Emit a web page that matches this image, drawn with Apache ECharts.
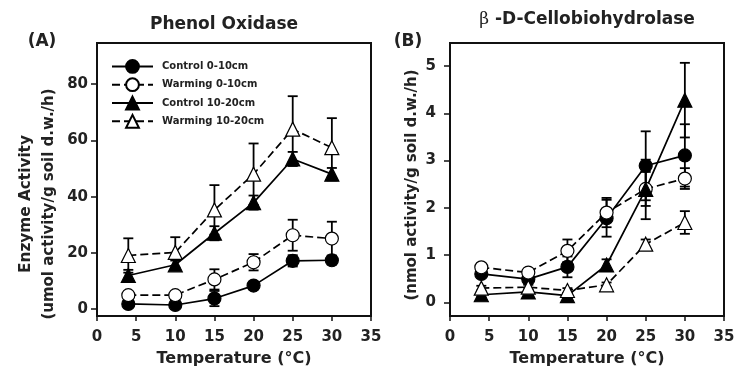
<!DOCTYPE html>
<html><head><meta charset="utf-8">
<script src="https://cdn.jsdelivr.net/npm/echarts@6/dist/echarts.min.js"></script>
<style>html,body{margin:0;padding:0;background:#fff}#c{width:747px;height:373px}</style>
</head><body><div id="c"></div>
<script>
// ---- data ----
const temps = [4, 10, 15, 20, 25, 30];
const seriesNames = ['Control 0-10cm', 'Warming 0-10cm', 'Control 10-20cm', 'Warming 10-20cm'];
const xTicks = [0, 5, 10, 15, 20, 25, 30, 35];
const yTicksA = [0, 20, 40, 60, 80];
const yTicksB = [0, 1, 2, 3, 4, 5];
// Panel A: Phenol Oxidase
const phenolCtrl0 = [1.9, 1.5, 3.8, 8.4, 17.2, 17.4];
const phenolCtrl0Err = [0.8, 0.8, 2.7, 1.2, 2.0, 1.5];
const phenolWarm0 = [5.0, 5.0, 10.6, 16.7, 26.3, 25.1];
const phenolWarm0Err = [1.0, 1.0, 3.6, 2.9, 5.5, 6.0];
const phenolCtrl10 = [12.0, 15.8, 27.0, 37.9, 53.4, 48.0];
const phenolCtrl10Err = [2.0, 1.5, 2.5, 2.5, 2.5, 2.2];
const phenolWarm10 = [19.1, 20.2, 35.3, 48.0, 64.0, 57.4];
const phenolWarm10Err = [6.1, 5.4, 8.8, 10.9, 11.7, 10.5];
// Panel B: beta-D-Cellobiohydrolase
const cbhCtrl0 = [0.60, 0.49, 0.75, 1.78, 2.89, 3.11];
const cbhCtrl0Err = [0.05, 0.05, 0.22, 0.39, 0.73, 0.66];
const cbhWarm0 = [0.74, 0.63, 1.09, 1.90, 2.40, 2.62];
const cbhWarm0Err = [0.05, 0.05, 0.24, 0.31, 0.36, 0.22];
const cbhCtrl10 = [0.16, 0.22, 0.14, 0.79, 2.39, 4.28];
const cbhCtrl10Err = [0.05, 0.05, 0.05, 0.12, 0.63, 0.79];
const cbhWarm10 = [0.30, 0.32, 0.25, 0.37, 1.23, 1.69];
const cbhWarm10Err = [0.05, 0.05, 0.05, 0.05, 0.10, 0.24];

// ---- chart ----
const FONT = 'DejaVu Sans';
const pair = (ys) => temps.map((t, i) => [t, ys[i]]);
const triple = (ys, es) => temps.map((t, i) => [t, ys[i], es[i]]);

const styles = [
  {symbol: 'circle', size: 13, fill: '#000', dash: 'solid'},
  {symbol: 'circle', size: 13, fill: '#fff', dash: [8, 4]},
  {symbol: 'triangle', size: 14, fill: '#000', dash: 'solid'},
  {symbol: 'triangle', size: 14, fill: '#fff', dash: [8, 4]}
];

function lineSeries(idx, name, ys) {
  const s = styles[name];
  return {
    type: 'line', name: seriesNames[name], xAxisIndex: idx, yAxisIndex: idx,
    data: pair(ys), symbol: s.symbol, symbolSize: s.size, showAllSymbol: true,
    lineStyle: {color: '#000', width: 1.7, type: s.dash},
    itemStyle: {color: s.fill, borderColor: '#000', borderWidth: 1.2, opacity: 1},
    z: 3, animation: false
  };
}
function errSeries(idx, ys, es) {
  return {
    type: 'custom', xAxisIndex: idx, yAxisIndex: idx, data: triple(ys, es), z: 2,
    silent: true, animation: false,
    renderItem: function (params, api) {
      const x = api.value(0), y = api.value(1), e = api.value(2);
      const top = api.coord([x, y + e]);
      const bot = api.coord([x, y - e]);
      const hw = 5;
      const st = {stroke: '#000', lineWidth: 1.8};
      return {type: 'group', children: [
        {type: 'line', shape: {x1: top[0], y1: top[1], x2: bot[0], y2: bot[1]}, style: st},
        {type: 'line', shape: {x1: top[0] - hw, y1: top[1], x2: top[0] + hw, y2: top[1]}, style: st},
        {type: 'line', shape: {x1: bot[0] - hw, y1: bot[1], x2: bot[0] + hw, y2: bot[1]}, style: st}
      ]};
    }
  };
}

const axisLabelStyle = {fontFamily: FONT, fontWeight: 'bold', fontSize: 15, color: '#222'};
function xAxis(idx) {
  return {
    gridIndex: idx, type: 'value', min: 0, max: 35, interval: 5,
    name: 'Temperature (°C)', nameLocation: 'middle', nameGap: 35,
    nameTextStyle: {fontFamily: FONT, fontWeight: 'bold', fontSize: 16, color: '#222'},
    axisLine: {show: true, onZero: false, lineStyle: {color: '#111', width: 2}},
    axisTick: {show: true, inside: false, length: 5, lineStyle: {color: '#111', width: 1.5}},
    axisLabel: Object.assign({margin: 14, customValues: xTicks}, axisLabelStyle),
    splitLine: {show: false}
  };
}
function yAxis(idx, min, max, ticks, margin) {
  return {
    gridIndex: idx, type: 'value', min: min, max: max,
    axisLine: {show: true, onZero: false, lineStyle: {color: '#111', width: 2}},
    axisTick: {show: true, inside: false, length: 6, customValues: ticks, lineStyle: {color: '#111', width: 1.5}},
    axisLabel: Object.assign({margin: margin, customValues: ticks}, axisLabelStyle),
    splitLine: {show: false}
  };
}

function vtext(x, y, text, size) {
  return {type: 'text', x: x, y: y, rotation: Math.PI / 2,
    style: {text: text, fontFamily: FONT, fontWeight: 'bold', fontSize: size, fill: '#222',
      align: 'center', verticalAlign: 'middle'}};
}
function htext(x, y, text, size, weight) {
  return {type: 'text', x: x, y: y,
    style: {text: text, fontFamily: FONT, fontWeight: weight || 'bold', fontSize: size, fill: '#222',
      align: 'center', verticalAlign: 'middle'}};
}

const option = {
  backgroundColor: '#fff',
  animation: false,
  grid: [
    {left: 97, top: 43, width: 274, height: 273, outerBoundsMode: 'none', containLabel: false,
      show: true, borderColor: '#111', borderWidth: 2, backgroundColor: 'transparent'},
    {left: 450, top: 43, width: 274, height: 273, outerBoundsMode: 'none', containLabel: false,
      show: true, borderColor: '#111', borderWidth: 2, backgroundColor: 'transparent'}
  ],
  xAxis: [xAxis(0), xAxis(1)],
  yAxis: [yAxis(0, -2.4, 94.6, yTicksA, 9), yAxis(1, -0.29, 5.49, yTicksB, 14)],
  legend: {
    left: 106, top: 54, orient: 'vertical', itemWidth: 41, itemHeight: 16, itemGap: 3.5,
    data: seriesNames, selectedMode: false,
    textStyle: {fontFamily: FONT, fontWeight: 'bold', fontSize: 10, color: '#222', padding: [0, 0, 0, 4]}
  },
  graphic: [
    htext(224, 25, 'Phenol Oxidase', 17),
    htext(42, 41.5, '(A)', 17),
    {type: 'text', x: 587, y: 20,
      style: {text: '{b|β} -D-Cellobiohydrolase', fontFamily: FONT, fontWeight: 'bold', fontSize: 17, fill: '#222',
        align: 'center', verticalAlign: 'middle',
        rich: {b: {fontFamily: 'DejaVu Serif', fontWeight: 'normal', fontSize: 17, fill: '#222'}}}},
    htext(408, 41.5, '(B)', 17),
    vtext(25.6, 204, 'Enzyme Activity', 15.3),
    vtext(49, 204, '(umol activity/g soil d.w./h)', 15),
    vtext(411.7, 185, '(nmol activity/g soil d.w./h)', 15)
  ],
  series: [
    errSeries(0, phenolCtrl0, phenolCtrl0Err),
    errSeries(0, phenolWarm0, phenolWarm0Err),
    errSeries(0, phenolCtrl10, phenolCtrl10Err),
    errSeries(0, phenolWarm10, phenolWarm10Err),
    lineSeries(0, 0, phenolCtrl0),
    lineSeries(0, 1, phenolWarm0),
    lineSeries(0, 2, phenolCtrl10),
    lineSeries(0, 3, phenolWarm10),
    errSeries(1, cbhCtrl0, cbhCtrl0Err),
    errSeries(1, cbhWarm0, cbhWarm0Err),
    errSeries(1, cbhCtrl10, cbhCtrl10Err),
    errSeries(1, cbhWarm10, cbhWarm10Err),
    lineSeries(1, 0, cbhCtrl0),
    lineSeries(1, 1, cbhWarm0),
    lineSeries(1, 2, cbhCtrl10),
    lineSeries(1, 3, cbhWarm10)
  ]
};
const chart = echarts.init(document.getElementById('c'), null, {renderer: 'canvas'});
chart.setOption(option);
</script>
</body></html>
